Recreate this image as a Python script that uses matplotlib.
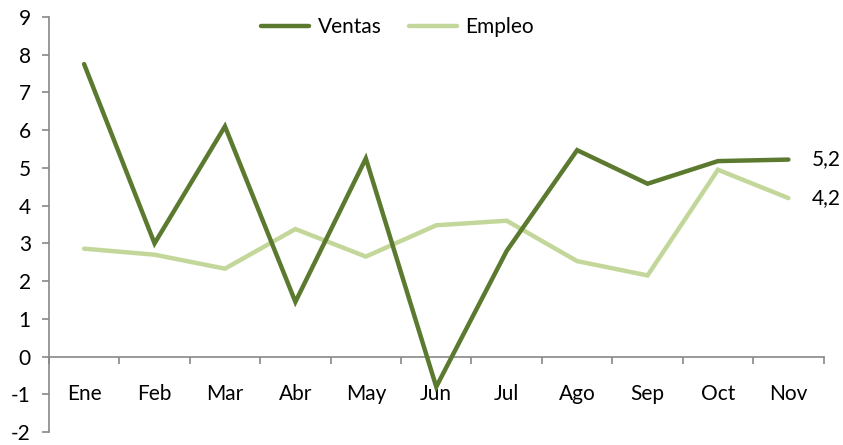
import matplotlib
matplotlib.use("Agg")
import matplotlib.pyplot as plt
import numpy as np

plt.rcParams['font.family'] = ['Lato', 'DejaVu Sans']
plt.rcParams['axes.unicode_minus'] = False

months = ["Ene", "Feb", "Mar", "Abr", "May", "Jun", "Jul", "Ago", "Sep", "Oct", "Nov"]
ventas = [7.75, 3.0, 6.1, 1.45, 5.25, -0.8, 2.8, 5.47, 4.58, 5.18, 5.22]
empleo = [2.86, 2.7, 2.33, 3.38, 2.65, 3.48, 3.6, 2.53, 2.15, 4.95, 4.2]
end_labels = ["5,2", "4,2"]

c_v = "#5b7a2f"
c_e = "#c4d79b"

fig = plt.figure(figsize=(8.43, 4.45), dpi=100)
ax = fig.add_axes([0.058, 0.029, 0.919, 0.933])
x = np.arange(len(months))
ax.plot(x, ventas, color=c_v, lw=3.2, solid_capstyle='round', solid_joinstyle='miter', label="Ventas", zorder=3)
ax.plot(x, empleo, color=c_e, lw=3.2, solid_capstyle='round', solid_joinstyle='miter', label="Empleo", zorder=2)

ax.set_xlim(-0.5, 10.5)
ax.set_ylim(-2, 9)
ax.set_yticks(range(-2, 10))
ax.set_xticks(x)
ax.set_xticklabels(months)
ax.set_xticks(np.arange(-0.5, 11, 1), minor=True)

for s in ["top", "right"]:
    ax.spines[s].set_visible(False)
ax.spines['bottom'].set_position(('data', 0))
for s in ["left", "bottom"]:
    ax.spines[s].set_color("#878787")
    ax.spines[s].set_linewidth(1.2)

fs = 15
ax.tick_params(axis='y', direction='out', length=5, color="#878787", width=1.2, labelsize=fs, pad=8)
ax.tick_params(axis='x', which='major', length=0, labelsize=fs, pad=20)
ax.tick_params(axis='x', which='minor', direction='out', length=5, color="#878787", width=1.2)

ax.text(10.33, ventas[-1], end_labels[0], fontsize=fs, va='center', ha='left')
ax.text(10.33, empleo[-1], end_labels[1], fontsize=fs, va='center', ha='left')

ax.legend(loc='upper center', bbox_to_anchor=(0.45, 1.045), ncol=2, frameon=False,
          fontsize=fs, handlelength=2.3, columnspacing=1.3, handletextpad=0.4)

fig.savefig("out.png", dpi=100)
